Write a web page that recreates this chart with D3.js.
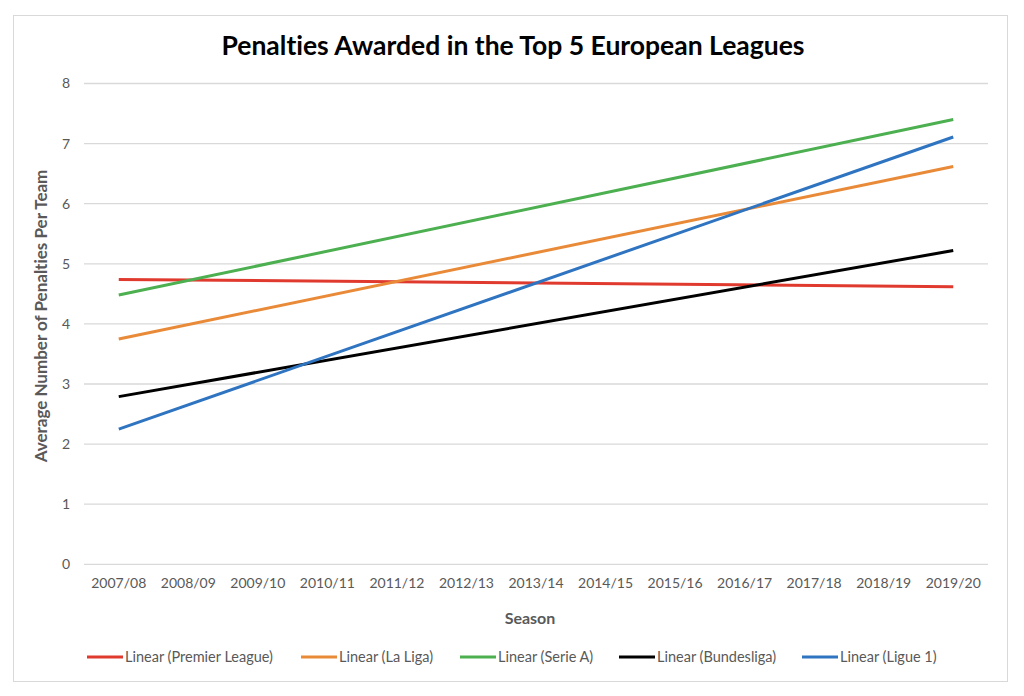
<!DOCTYPE html>
<html><head><meta charset="utf-8">
<script src="https://cdn.jsdelivr.net/npm/d3@7"></script>
<style>body{margin:0;background:#fff;} svg{display:block;} text{font-variant-ligatures:none;}</style>
</head><body>
<script>
const seasons = ["2007/08","2008/09","2009/10","2010/11","2011/12","2012/13","2013/14","2014/15","2015/16","2016/17","2017/18","2018/19","2019/20"];
const seriesNames = ["Linear (Premier League)","Linear (La Liga)","Linear (Serie A)","Linear (Bundesliga)","Linear (Ligue 1)"];
const seriesColors = ["#e03a2f","#e98a38","#4caf50","#000000","#2f74c0"];
// trend line endpoints (first and last season)
const startValues = [4.74, 3.75, 4.48, 2.79, 2.25];
const endValues   = [4.62, 6.62, 7.40, 5.22, 7.11];
const yTicks = [0,1,2,3,4,5,6,7,8];

(function(){
const W=1024,H=696;
const svg=d3.select("body").append("svg").attr("width",W).attr("height",H);
svg.append("rect").attr("x",13.5).attr("y",15.5).attr("width",994).attr("height",666)
  .attr("fill","#fff").attr("stroke","#d9d9d9").attr("stroke-width",1);

const font="Lato, 'Open Sans', sans-serif";
const pl=84,pr=988,pt=83.5,pb=564.3;
const x=d3.scaleBand().domain(seasons).range([pl,pr]);
const y=d3.scaleLinear().domain([0,8]).range([pb,pt]);

svg.append("g").selectAll("line").data(yTicks).join("line")
  .attr("x1",pl).attr("x2",pr).attr("y1",d=>y(d)).attr("y2",d=>y(d))
  .attr("stroke","#d9d9d9").attr("stroke-width",1.3);

const ya=svg.append("g").attr("transform",`translate(${pl},0)`)
  .call(d3.axisLeft(y).tickValues(yTicks).tickSize(0).tickPadding(14));
ya.select(".domain").remove();
ya.selectAll("text").attr("font-family",font).attr("font-size",14).attr("fill","#595959");

const xa=svg.append("g").attr("transform",`translate(0,${pb})`)
  .call(d3.axisBottom(x).tickSize(0).tickPadding(14));
xa.select(".domain").remove();
xa.selectAll("text").attr("font-family",font).attr("font-size",14).attr("fill","#595959");

const line=d3.line().x(d=>x(d[0])+x.bandwidth()/2).y(d=>y(d[1]));
seriesNames.forEach((n,i)=>{
  svg.append("path").datum([[seasons[0],startValues[i]],[seasons[seasons.length-1],endValues[i]]])
    .attr("d",line).attr("fill","none").attr("stroke",seriesColors[i]).attr("stroke-width",3);
});

svg.append("text").attr("x",513).attr("y",55).attr("text-anchor","middle")
  .attr("font-family",font).attr("font-weight","bold").attr("font-size",26.5).attr("fill","#000")
  .text("Penalties Awarded in the Top 5 European Leagues");

svg.append("text").attr("x",530).attr("y",624).attr("text-anchor","middle")
  .attr("font-family",font).attr("font-weight","bold").attr("font-size",16).attr("fill","#595959").text("Season");
svg.append("text").attr("transform","translate(47,316) rotate(-90)").attr("text-anchor","middle")
  .attr("font-family",font).attr("font-weight","bold").attr("font-size",17).attr("fill","#595959")
  .text("Average Number of Penalties Per Team");

const legX=[87,301,460,619,802];
const lg=svg.append("g");
seriesNames.forEach((n,i)=>{
  lg.append("line").attr("x1",legX[i]).attr("x2",legX[i]+36).attr("y1",657).attr("y2",657)
    .attr("stroke",seriesColors[i]).attr("stroke-width",3);
  lg.append("text").attr("x",legX[i]+38).attr("y",662).attr("font-family",font).attr("font-size",14.5)
    .attr("fill","#595959").text(n);
});
})();
</script>
</body></html>
